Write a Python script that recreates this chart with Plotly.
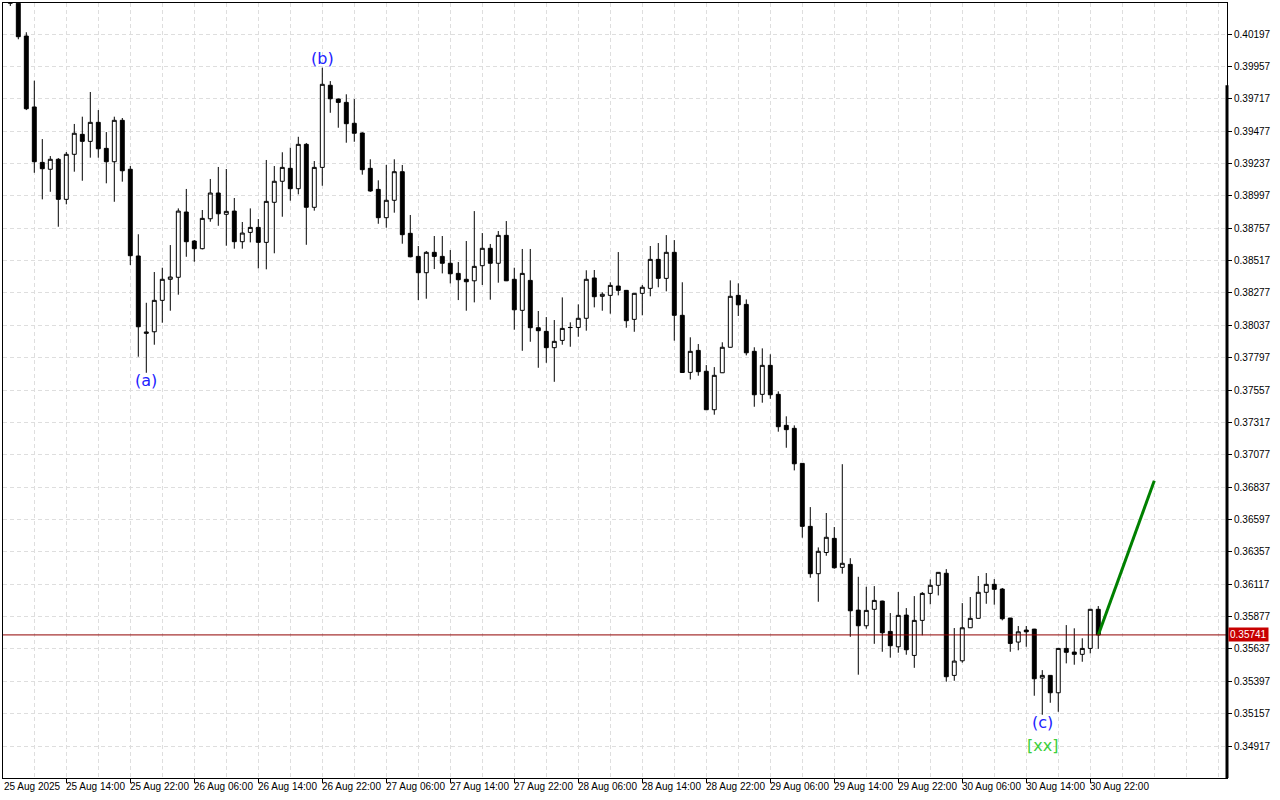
import pandas as pd
import plotly.graph_objects as go

# ---- data (hourly candles, 25 Aug 2025 07:00 .. 30 Aug 2025 23:00) ----
start_time = "2025-08-25 07:00"
n_candles = 137
times = pd.date_range(start_time, periods=n_candles, freq="h")

open_ = [0.40440, 0.40425, 0.40182, 0.39656, 0.39245, 0.39194, 0.39268, 0.38971, 0.39305, 0.39453,
         0.39401, 0.39542, 0.39349, 0.39250, 0.39557, 0.39194, 0.38551, 0.37977, 0.37989, 0.38222,
         0.38378, 0.38393, 0.38877, 0.38662, 0.38605, 0.38827, 0.39018, 0.38860, 0.38884, 0.38657,
         0.38726, 0.38763, 0.38652, 0.38949, 0.39105, 0.39201, 0.39050, 0.39379, 0.38912, 0.39208,
         0.39817, 0.39715, 0.39690, 0.39535, 0.39463, 0.39201, 0.39045, 0.38835, 0.38964, 0.39176,
         0.38719, 0.38548, 0.38427, 0.38578, 0.38548, 0.38497, 0.38422, 0.38378, 0.38367, 0.38479,
         0.38608, 0.38497, 0.38704, 0.38378, 0.38148, 0.38370, 0.38019, 0.37992, 0.37871, 0.37925,
         0.38020, 0.38021, 0.38089, 0.38388, 0.38252, 0.38259, 0.38328, 0.38296, 0.38081, 0.38274,
         0.38311, 0.38526, 0.38385, 0.38578, 0.38111, 0.37688, 0.37851, 0.37696, 0.37411, 0.37685,
         0.37874, 0.38259, 0.38192, 0.37844, 0.37525, 0.37740, 0.37525, 0.37295, 0.37273, 0.37013,
         0.36546, 0.36195, 0.36352, 0.36457, 0.36242, 0.36264, 0.35925, 0.35809, 0.35931, 0.35992,
         0.35767, 0.35653, 0.35888, 0.35589, 0.35849, 0.36049, 0.36109, 0.36198, 0.35441, 0.35549,
         0.35794, 0.35864, 0.36057, 0.36116, 0.36081, 0.35866, 0.35688, 0.35777, 0.35784, 0.35421,
         0.35441, 0.35312, 0.35641, 0.35614, 0.35597, 0.35641, 0.35931]

high = [0.40480, 0.40450, 0.40210, 0.39851, 0.39418, 0.39292, 0.39277, 0.39322, 0.39530, 0.39584,
        0.39767, 0.39633, 0.39470, 0.39584, 0.39574, 0.39218, 0.38712, 0.38204, 0.38432, 0.38464,
        0.38632, 0.38904, 0.39048, 0.38669, 0.38892, 0.39122, 0.39211, 0.39196, 0.38981, 0.38803,
        0.38904, 0.38825, 0.39263, 0.39218, 0.39320, 0.39354, 0.39435, 0.39389, 0.39255, 0.39947,
        0.39848, 0.39719, 0.39750, 0.39715, 0.39468, 0.39268, 0.39112, 0.39226, 0.39268, 0.39226,
        0.38855, 0.38625, 0.38588, 0.38699, 0.38699, 0.38595, 0.38506, 0.38662, 0.38884, 0.38721,
        0.38640, 0.38736, 0.38810, 0.38464, 0.38603, 0.38603, 0.38143, 0.38098, 0.38076, 0.38244,
        0.38059, 0.38192, 0.38445, 0.38447, 0.38282, 0.38356, 0.38580, 0.38299, 0.38276, 0.38336,
        0.38625, 0.38647, 0.38706, 0.38669, 0.38356, 0.37948, 0.37898, 0.37742, 0.37727, 0.37911,
        0.38370, 0.38348, 0.38229, 0.37874, 0.37866, 0.37822, 0.37547, 0.37362, 0.37295, 0.37015,
        0.36689, 0.36390, 0.36645, 0.36541, 0.37007, 0.36310, 0.36172, 0.36098, 0.36103, 0.35995,
        0.35903, 0.36059, 0.35940, 0.36029, 0.36059, 0.36153, 0.36207, 0.36229, 0.35792, 0.35977,
        0.36022, 0.36178, 0.36200, 0.36155, 0.36089, 0.35867, 0.35807, 0.35807, 0.35786, 0.35480,
        0.35443, 0.35643, 0.35814, 0.35790, 0.35716, 0.35933, 0.35955]

low = [0.40405, 0.40158, 0.39633, 0.39168, 0.38971, 0.39027, 0.38768, 0.38934, 0.39176, 0.39109,
       0.39280, 0.39280, 0.39090, 0.38953, 0.39102, 0.38484, 0.37804, 0.37685, 0.37893, 0.38056,
       0.38145, 0.38264, 0.38545, 0.38508, 0.38600, 0.38805, 0.38775, 0.38627, 0.38605, 0.38605,
       0.38652, 0.38459, 0.38452, 0.38571, 0.38842, 0.38961, 0.39008, 0.38634, 0.38887, 0.39072,
       0.39613, 0.39502, 0.39391, 0.39398, 0.39154, 0.39027, 0.38790, 0.38761, 0.38872, 0.38642,
       0.38541, 0.38224, 0.38234, 0.38454, 0.38422, 0.38348, 0.38224, 0.38145, 0.38207, 0.38336,
       0.38227, 0.38353, 0.38365, 0.38004, 0.37848, 0.37915, 0.37722, 0.37759, 0.37618, 0.37893,
       0.37878, 0.37952, 0.37997, 0.38170, 0.38145, 0.38123, 0.38259, 0.38019, 0.37989, 0.38111,
       0.38252, 0.38319, 0.38289, 0.37923, 0.37685, 0.37635, 0.37663, 0.37409, 0.37374, 0.37683,
       0.37872, 0.38106, 0.37814, 0.37433, 0.37463, 0.37492, 0.37248, 0.37129, 0.36961, 0.36462,
       0.36165, 0.35987, 0.36328, 0.36232, 0.36195, 0.35727, 0.35446, 0.35787, 0.35675, 0.35616,
       0.35572, 0.35609, 0.35594, 0.35497, 0.35738, 0.35968, 0.36034, 0.35394, 0.35401, 0.35535,
       0.35792, 0.35863, 0.35972, 0.35965, 0.35849, 0.35616, 0.35627, 0.35653, 0.35290, 0.35149,
       0.35238, 0.35171, 0.35530, 0.35520, 0.35542, 0.35604, 0.35638]

close = [0.40425, 0.40177, 0.39643, 0.39250, 0.39198, 0.39268, 0.38971, 0.39305, 0.39461, 0.39401,
         0.39542, 0.39346, 0.39250, 0.39557, 0.39183, 0.38553, 0.38026, 0.37987, 0.38222, 0.38378,
         0.38395, 0.38884, 0.38657, 0.38605, 0.38830, 0.39018, 0.38864, 0.38882, 0.38657, 0.38721,
         0.38763, 0.38652, 0.38956, 0.39105, 0.39208, 0.39050, 0.39379, 0.38912, 0.39208, 0.39824,
         0.39717, 0.39690, 0.39532, 0.39461, 0.39191, 0.39033, 0.38835, 0.38964, 0.39176, 0.38709,
         0.38545, 0.38427, 0.38578, 0.38548, 0.38497, 0.38419, 0.38375, 0.38360, 0.38474, 0.38608,
         0.38497, 0.38704, 0.38367, 0.38152, 0.38422, 0.38019, 0.37997, 0.37871, 0.37918, 0.38014,
         0.38021, 0.38089, 0.38378, 0.38249, 0.38267, 0.38333, 0.38296, 0.38071, 0.38274, 0.38319,
         0.38526, 0.38385, 0.38578, 0.38111, 0.37687, 0.37844, 0.37693, 0.37411, 0.37666, 0.37874,
         0.38252, 0.38189, 0.37833, 0.37522, 0.37740, 0.37522, 0.37285, 0.37263, 0.37010, 0.36546,
         0.36195, 0.36361, 0.36465, 0.36239, 0.36272, 0.35920, 0.35809, 0.35923, 0.35997, 0.35757,
         0.35661, 0.35886, 0.35631, 0.35849, 0.36049, 0.36109, 0.36205, 0.35431, 0.35547, 0.35794,
         0.35864, 0.36057, 0.36116, 0.36079, 0.35861, 0.35678, 0.35764, 0.35764, 0.35416, 0.35441,
         0.35312, 0.35641, 0.35612, 0.35597, 0.35641, 0.35931, 0.35741]

current_price = 0.35741
projection_times = ["2025-08-30 23:00", "2025-08-31 06:00"]
projection_prices = [0.35741, 0.36884]

wave_labels = ["(a)", "(b)", "(c)", "[xx]"]
wave_times = ["2025-08-26 00:00", "2025-08-26 22:00", "2025-08-30 16:00", "2025-08-30 16:00"]
wave_prices = [0.37624, 0.40019, 0.35095, 0.34924]
wave_colors = ["#2222ff", "#2222ff", "#2222ff", "#3ccf3c"]

x_label_times = pd.date_range("2025-08-25 06:00", periods=18, freq="8h")
x_label_texts = ["25 Aug 2025", "25 Aug 14:00", "25 Aug 22:00", "26 Aug 06:00", "26 Aug 14:00",
                 "26 Aug 22:00", "27 Aug 06:00", "27 Aug 14:00", "27 Aug 22:00", "28 Aug 06:00",
                 "28 Aug 14:00", "28 Aug 22:00", "29 Aug 06:00", "29 Aug 14:00", "29 Aug 22:00",
                 "30 Aug 06:00", "30 Aug 14:00", "30 Aug 22:00"]
x_grid_times = pd.date_range("2025-08-25 06:00", "2025-08-31 14:00", freq="4h")

y_tick_values = [0.34917, 0.35157, 0.35397, 0.35637, 0.35877, 0.36117, 0.36357, 0.36597,
                 0.36837, 0.37077, 0.37317, 0.37557, 0.37797, 0.38037, 0.38277, 0.38517,
                 0.38757, 0.38997, 0.39237, 0.39477, 0.39717, 0.39957, 0.40197]
y_tick_texts = [f"{v:.5f}" for v in y_tick_values]
y_range = [0.34680, 0.40427]
x_range = ["2025-08-25 06:05:15", "2025-08-31 15:05:24"]

# ---- figure ----
grid_color = "#dedede"
axis_font = dict(family="Liberation Sans, Arial, sans-serif", size=10, color="black")

fig = go.Figure()
fig.add_trace(go.Candlestick(
    x=times, open=open_, high=high, low=low, close=close,
    increasing=dict(line=dict(color="black", width=1), fillcolor="white"),
    decreasing=dict(line=dict(color="black", width=1), fillcolor="black"),
    whiskerwidth=0, hoverinfo="skip", showlegend=False,
))
fig.add_trace(go.Scatter(
    x=projection_times, y=projection_prices, mode="lines",
    line=dict(color="#008000", width=3), hoverinfo="skip", showlegend=False,
))

fig.add_shape(type="line", xref="paper", x0=0, x1=1, yref="y",
              y0=current_price, y1=current_price, line=dict(color="#900000", width=1))
fig.add_shape(type="line", xref="paper", x0=1, x1=1, yref="paper", y0=0, y1=0.894,
              line=dict(color="black", width=3))

for t, txt, p, c in zip(wave_times, wave_labels, wave_prices, wave_colors):
    fig.add_annotation(x=t, y=p, text=txt, showarrow=False,
                       font=dict(family="DejaVu Sans, Verdana, sans-serif", size=16, color=c))

for i, (t, txt) in enumerate(zip(x_label_times, x_label_texts)):
    if i == 0:
        fig.add_annotation(x=0, y=0, xref="paper", yref="paper", text=txt, showarrow=False,
                           xanchor="left", yanchor="top", xshift=-1, yshift=-1, font=axis_font)
    else:
        fig.add_annotation(x=t, y=0, xref="x", yref="paper", text=txt, showarrow=False,
                           xanchor="left", yanchor="top", xshift=-2, yshift=-1, font=axis_font)

fig.add_annotation(x=1, xref="paper", y=current_price, yref="y", text=f"{current_price:.5f}",
                   showarrow=False, xanchor="left", yanchor="middle", xshift=1,
                   bgcolor="#c80000", borderpad=1,
                   font=dict(family=axis_font["family"], size=10, color="white"))

fig.update_layout(
    width=1280, height=800,
    margin=dict(l=3, r=53, t=3, b=22),
    paper_bgcolor="white", plot_bgcolor="white",
    hovermode=False, showlegend=False,
    xaxis=dict(
        type="date", range=x_range, rangeslider=dict(visible=False),
        tickmode="array", tickvals=list(x_label_times),
        showticklabels=False, ticks="outside", ticklen=4, tickcolor="black",
        showgrid=True, gridcolor=grid_color, griddash="4px,3px", gridwidth=1,
        minor=dict(tickmode="array", tickvals=list(x_grid_times), ticks="", showgrid=True,
                   gridcolor=grid_color, griddash="4px,3px", gridwidth=1),
        showline=True, linecolor="black", linewidth=1, mirror=True, zeroline=False,
    ),
    yaxis=dict(
        side="right", range=y_range, tickmode="array", tickvals=y_tick_values,
        ticktext=y_tick_texts,
        ticks="outside", ticklen=4, tickcolor="black", tickfont=axis_font,
        showgrid=True, gridcolor=grid_color, griddash="4px,3px", gridwidth=1,
        showline=True, linecolor="black", linewidth=1, mirror=True, zeroline=False,
    ),
)

fig.write_html("out.html", config={"displayModeBar": False},
               post_script="document.body.style.margin='0';")
